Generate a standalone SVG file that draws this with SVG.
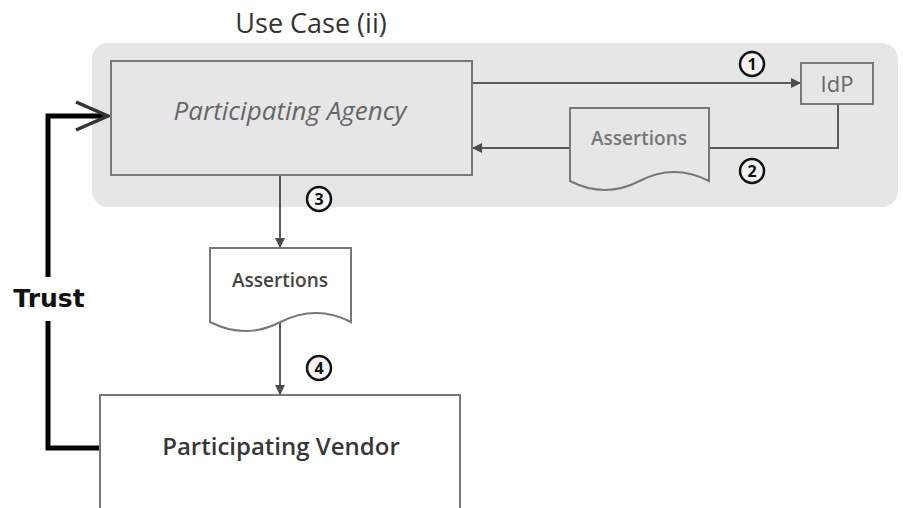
<svg xmlns="http://www.w3.org/2000/svg" width="903" height="508" viewBox="0 0 903 508">
<defs>
<style>
.box{stroke:#787878;stroke-width:2;}
.conn{fill:none;stroke:#5a5a5a;stroke-width:2;}
.num{fill:#f4f4f4;stroke:#111;stroke-width:2.5;}
.numt{font-family:"Open Sans","Liberation Sans",sans-serif;font-weight:700;font-size:16px;fill:#111;text-anchor:middle;}
.lbl{font-family:"Open Sans","Liberation Sans",sans-serif;text-anchor:middle;}
</style>
<marker id="ah" markerWidth="10" markerHeight="10" refX="9" refY="5" orient="auto" markerUnits="userSpaceOnUse">
<path d="M0,0 L10,5 L0,10 Z" fill="#4a4a4a"/>
</marker>
</defs>
<rect width="903" height="508" fill="#ffffff"/>
<text x="311" y="33" class="lbl" font-size="27" fill="#333">Use Case (ii)</text>
<rect x="92" y="43" width="806" height="164" rx="16" ry="16" fill="#e6e6e6"/>

<g id="connectors">
<path class="conn" d="M472,83 H800" marker-end="url(#ah)"/>
<path class="conn" d="M838,104 V148 H709"/>
<path class="conn" d="M570,148 H473" marker-end="url(#ah)"/>
<path class="conn" d="M280,175 V247" marker-end="url(#ah)"/>
<path class="conn" d="M280,322 V394" marker-end="url(#ah)"/>
<path d="M100,448 H48 V321 M48,277 V116 H104" fill="none" stroke="#000" stroke-width="5"/>
<path d="M76,102 L108,116 L76,130" fill="none" stroke="#333" stroke-width="3.5"/>
<text x="49" y="307" font-family="DejaVu Sans,Verdana,sans-serif" font-weight="700" font-size="25" fill="#111" text-anchor="middle">Trust</text>
<circle class="num" cx="752" cy="64" r="12"/><text class="numt" x="752" y="70">1</text>
<circle class="num" cx="752" cy="171" r="12"/><text class="numt" x="752" y="177">2</text>
<circle class="num" cx="319" cy="199" r="12"/><text class="numt" x="319" y="205">3</text>
<circle class="num" cx="319" cy="368" r="12"/><text class="numt" x="319" y="374">4</text>
</g>

<g id="agency">
<rect class="box" x="111" y="61" width="361" height="114" fill="#e6e6e6"/>
<text class="lbl" x="290" y="120" font-size="26" font-style="italic" fill="#666">Participating Agency</text>
</g>

<g id="idp">
<rect class="box" x="801" y="63" width="72" height="41" fill="#e6e6e6"/>
<text class="lbl" x="837" y="92" font-size="22" fill="#666">IdP</text>
</g>

<g id="assertions1">
<path class="box" d="M570,108 H709 V181 Q674,163 639.5,181 T570,181 Z" fill="#e6e6e6"/>
<text class="lbl" x="639" y="145" font-size="19" font-weight="600" fill="#777">Assertions</text>
</g>

<g id="assertions2">
<path class="box" d="M210,248 H351 V322 Q315.75,304 280.5,322 T210,322 Z" fill="#ffffff"/>
<text class="lbl" x="280" y="287" font-size="19" font-weight="600" fill="#444">Assertions</text>
</g>

<g id="vendor">
<rect class="box" x="100" y="395" width="360" height="130" fill="#ffffff"/>
<text class="lbl" x="281" y="455" font-size="24" font-weight="600" fill="#383838">Participating Vendor</text>
</g>
</svg>
